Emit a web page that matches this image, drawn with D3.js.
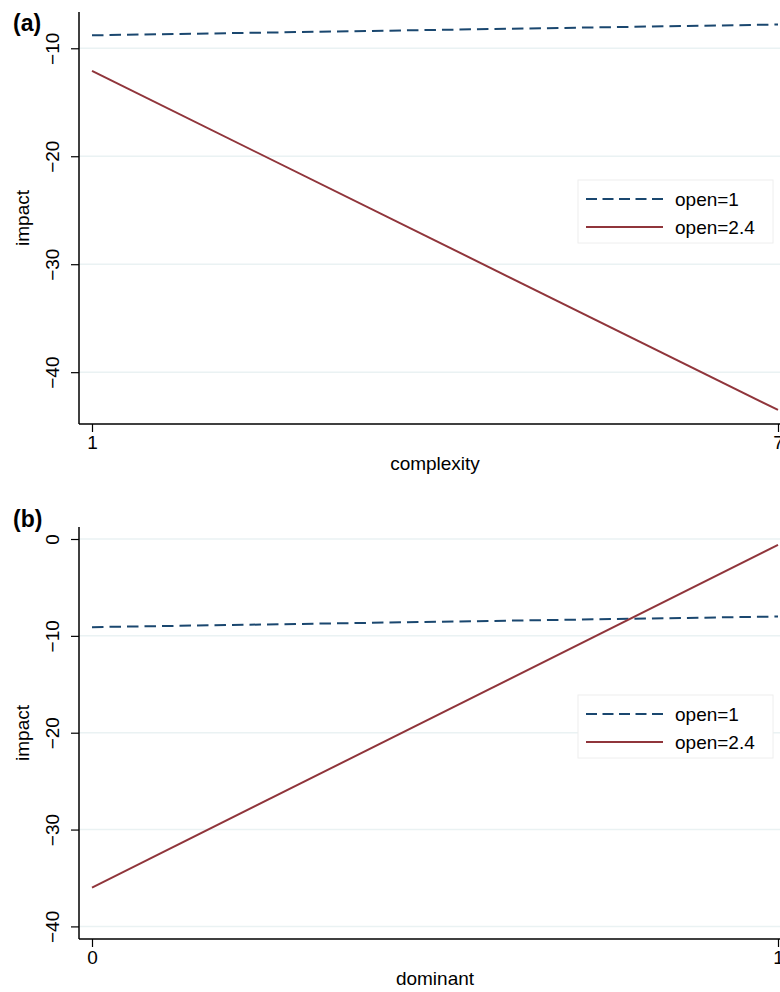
<!DOCTYPE html>
<html>
<head>
<meta charset="utf-8">
<script src="https://cdn.jsdelivr.net/npm/d3@7"></script>
<style>
  body { margin: 0; background: #fff; }
  text { font-family: "Liberation Sans", Arial, sans-serif; fill: #000; }
</style>
</head>
<body>
<div id="chart"></div>
<script>
// values
const panelLabels = ['(a)', '(b)'];
const xTitles = ['complexity', 'dominant'];
const yTitle = 'impact';
const xTicks = [[1, 7], [0, 1]];
const yTicks = [[-10, -20, -30, -40], [0, -10, -20, -30, -40]];
const yDomains = [[-44.8, -6.64], [-41.3, 1.24]];
const seriesNames = ['open=1', 'open=2.4'];
const open1 = [[-8.8, -7.8], [-9.1, -8.0]];
const open24 = [[-12.1, -43.5], [-36.0, -0.6]];

const width = 780, height = 992;
const navy = '#1a476f', maroon = '#90353b';
const dash = '11.5,6';

const svg = d3.select('#chart').append('svg')
  .attr('width', width)
  .attr('height', height);

const panels = [
  { top: 12, bottom: 424, labelY: 31 },
  { top: 527, bottom: 939, labelY: 527 }
];

panels.forEach((p, i) => {
  const axisX = 79;
  const x = d3.scaleLinear().domain(xTicks[i]).range([92, 778]);
  const y = d3.scaleLinear().domain(yDomains[i]).range([p.bottom, p.top]);
  const g = svg.append('g');

  // gridlines
  g.selectAll('.grid')
    .data(yTicks[i])
    .enter().append('line')
    .attr('x1', axisX).attr('x2', width)
    .attr('y1', d => y(d)).attr('y2', d => y(d))
    .attr('stroke', '#eaf2f3')
    .attr('stroke-width', 1.5);

  // y axis
  const yAxis = g.append('g')
    .attr('transform', `translate(${axisX},0)`)
    .call(d3.axisLeft(y).tickValues(yTicks[i]).tickSize(8).tickPadding(0)
      .tickFormat(d => d3.format('d')(d).replace('-', '\u2212')));
  yAxis.select('.domain').attr('d', `M0,${p.top}V${p.bottom}`).attr('stroke-width', 1.5);
  yAxis.selectAll('.tick line').attr('stroke-width', 1.2);
  yAxis.selectAll('.tick text')
    .attr('x', null).attr('dy', null)
    .attr('transform', 'translate(-20,0) rotate(-90)')
    .attr('text-anchor', 'middle')
    .style('font-size', '19px')
    .style('font-family', '"Liberation Sans", Arial, sans-serif');

  // x axis
  const xAxis = g.append('g')
    .attr('transform', `translate(0,${p.bottom})`)
    .call(d3.axisBottom(x).tickValues(xTicks[i]).tickSize(8).tickPadding(4)
      .tickFormat(d3.format('d')));
  xAxis.select('.domain').attr('d', `M${axisX},0H${width}`).attr('stroke-width', 1.5);
  xAxis.selectAll('.tick line').attr('stroke-width', 1.2);
  xAxis.selectAll('.tick text')
    .style('font-size', '19px')
    .style('font-family', '"Liberation Sans", Arial, sans-serif');

  // titles
  g.append('text')
    .attr('x', x((xTicks[i][0] + xTicks[i][1]) / 2))
    .attr('y', p.bottom + 46)
    .attr('text-anchor', 'middle')
    .style('font-size', '19px')
    .text(xTitles[i]);

  g.append('text')
    .attr('transform', `translate(29,${(p.top + p.bottom) / 2}) rotate(-90)`)
    .attr('text-anchor', 'middle')
    .style('font-size', '19px')
    .text(yTitle);

  g.append('text')
    .attr('x', 13)
    .attr('y', p.labelY)
    .style('font-size', '23px')
    .style('font-weight', 'bold')
    .text(panelLabels[i]);

  // lines
  const line = d3.line().x(d => x(d[0])).y(d => y(d[1]));
  g.append('path')
    .datum(xTicks[i].map((v, k) => [v, open1[i][k]]))
    .attr('d', line)
    .attr('fill', 'none')
    .attr('stroke', navy)
    .attr('stroke-width', 2)
    .attr('stroke-dasharray', dash);
  g.append('path')
    .datum(xTicks[i].map((v, k) => [v, open24[i][k]]))
    .attr('d', line)
    .attr('fill', 'none')
    .attr('stroke', maroon)
    .attr('stroke-width', 2);

  // legend
  const lg = g.append('g').attr('transform', `translate(578,${p.top + 168})`);
  lg.append('rect')
    .attr('width', 195).attr('height', 63)
    .attr('fill', '#fff')
    .attr('stroke', '#eeeeee');
  const items = lg.selectAll('.item')
    .data(seriesNames)
    .enter().append('g')
    .attr('transform', (d, k) => `translate(8,${19 + k * 28})`);
  items.append('line')
    .attr('x1', 0).attr('x2', 77)
    .attr('stroke', (d, k) => k === 0 ? navy : maroon)
    .attr('stroke-width', 2)
    .attr('stroke-dasharray', (d, k) => k === 0 ? '11,5.5' : null);
  items.append('text')
    .attr('x', 89)
    .attr('y', 7)
    .style('font-size', '19px')
    .text(d => d);
});
</script>
</body>
</html>
